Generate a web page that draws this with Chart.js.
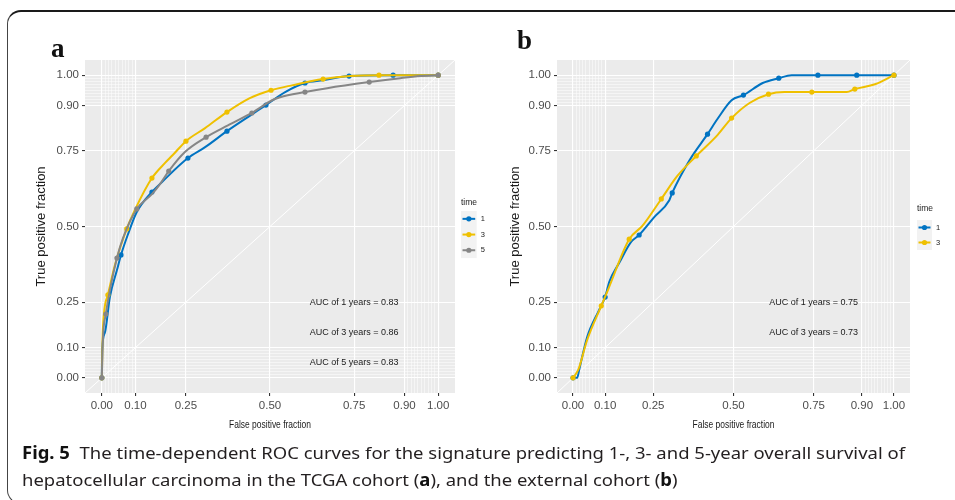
<!DOCTYPE html>
<html>
<head>
<meta charset="utf-8">
<script src="https://cdn.jsdelivr.net/npm/chart.js@4.4.1/dist/chart.umd.min.js"></script>
<style>
  body { margin: 0; background: #fff; width: 955px; height: 500px; overflow: hidden; position: relative; }
  .frame { position: absolute; left: 7px; top: 10px; width: 1000px; height: 494px;
           border-top: 2px solid #1a1a1a; border-left: 1.5px solid #444; border-bottom: 1.5px solid #444;
           border-radius: 14px; box-sizing: border-box; }
  canvas { position: absolute; top: 0; }
  #caption { position: absolute; left: 22px; top: 439px; font-family: "Noto Sans", sans-serif;
             font-size: 17px; line-height: 27px; color: #231f20; white-space: nowrap; transform-origin: 0 0; }
  #caption b { color: #111; }
</style>
</head>
<body>
<div class="frame"></div>
<canvas id="chartA" width="500" height="440" style="left:0;width:500px;height:440px"></canvas>
<canvas id="chartB" width="475" height="440" style="left:480px;width:475px;height:440px"></canvas>
<div id="caption"><span id="cap1"><b>Fig. 5</b>&nbsp; The time-dependent ROC curves for the signature predicting 1-, 3- and 5-year overall survival of</span><br><span>hepatocellular carcinoma in the TCGA cohort (<b>a</b>), and the external cohort (<b>b</b>)</span></div>
<script>
// axis breaks (plotROC style)
const majorBreaks = [0, 0.1, 0.25, 0.5, 0.75, 0.9, 1];
const minorBreaks = [0.01, 0.02, 0.03, 0.04, 0.05, 0.06, 0.07, 0.08, 0.09,
                     0.91, 0.92, 0.93, 0.94, 0.95, 0.96, 0.97, 0.98, 0.99];
const refLine = [{ x: -0.05, y: -0.05 }, { x: 1.05, y: 1.05 }];

// --- panel a: TCGA cohort ---
const fprA1 = [0, 0.001, 0.009, 0.024, 0.045, 0.057, 0.077, 0.104, 0.149, 0.179, 0.256, 0.307, 0.372, 0.443, 0.488, 0.545, 0.604, 0.658, 0.735, 0.866, 1];
const tprA1 = [0, 0.09, 0.149, 0.267, 0.356, 0.406, 0.472, 0.548, 0.614, 0.647, 0.726, 0.762, 0.815, 0.868, 0.901, 0.944, 0.974, 0.983, 0.997, 1, 1];
const markA1 = [0, 5, 8, 10, 12, 14, 16, 18, 19, 20];

const fprA3 = [0, 0.003, 0.018, 0.039, 0.074, 0.098, 0.149, 0.188, 0.211, 0.25, 0.307, 0.372, 0.44, 0.503, 0.568, 0.658, 0.738, 0.824, 1];
const tprA3 = [0, 0.158, 0.274, 0.373, 0.492, 0.554, 0.66, 0.71, 0.736, 0.782, 0.825, 0.878, 0.924, 0.95, 0.967, 0.987, 0.997, 1, 1];
const markA3 = [0, 2, 4, 6, 9, 11, 13, 15, 17, 18];

const fprA5 = [0, 0.003, 0.012, 0.024, 0.045, 0.063, 0.104, 0.149, 0.173, 0.199, 0.247, 0.31, 0.375, 0.446, 0.506, 0.53, 0.604, 0.67, 0.795, 0.887, 0.946, 1];
const tprA5 = [0, 0.125, 0.211, 0.29, 0.396, 0.462, 0.558, 0.607, 0.64, 0.683, 0.746, 0.795, 0.834, 0.875, 0.917, 0.927, 0.944, 0.957, 0.977, 0.99, 0.997, 1];
const markA5 = [0, 2, 4, 6, 9, 11, 13, 16, 18, 21];

const aucA = ["AUC of 1 years = 0.83", "AUC of 3 years = 0.86", "AUC of 5 years = 0.83"];
const aucAy = [0.25, 0.15, 0.05];
const timesA = ["1", "3", "5"];

// --- panel b: external cohort ---
const fprB1 = [0, 0.013, 0.019, 0.044, 0.081, 0.1, 0.113, 0.144, 0.181, 0.206, 0.253, 0.3, 0.309, 0.363, 0.419, 0.45, 0.494, 0.531, 0.591, 0.641, 0.681, 0.763, 0.884, 1];
const tprB1 = [0, 0, 0.026, 0.135, 0.224, 0.267, 0.317, 0.38, 0.449, 0.472, 0.531, 0.587, 0.611, 0.719, 0.805, 0.855, 0.917, 0.934, 0.974, 0.99, 1, 1, 1, 1];
const markB1 = [0, 5, 9, 12, 14, 17, 19, 21, 22, 23];

const fprB3 = [0, 0.016, 0.044, 0.088, 0.109, 0.175, 0.216, 0.275, 0.325, 0.384, 0.45, 0.494, 0.55, 0.609, 0.659, 0.744, 0.853, 0.878, 0.941, 1];
const tprB3 = [0, 0.026, 0.125, 0.238, 0.291, 0.458, 0.502, 0.591, 0.667, 0.733, 0.802, 0.858, 0.908, 0.937, 0.944, 0.944, 0.944, 0.954, 0.97, 1];
const markB3 = [0, 3, 5, 7, 9, 11, 13, 15, 17, 19];

const aucB = ["AUC of 1 years = 0.75", "AUC of 3 years = 0.73"];
const aucBy = [0.25, 0.15];
const timesB = ["1", "3"];

const COLORS = ['#0073C2', '#EFC000', '#868686'];
const FONT = '"Liberation Sans", Arial, sans-serif';

const isMajor = v => majorBreaks.includes(v);
const zip = (fpr, tpr) => fpr.map((x, i) => ({ x: x, y: tpr[i] }));

function rocSet(fpr, tpr, marks, color, order) {
    return {
        data: zip(fpr, tpr),
        borderColor: color,
        backgroundColor: color,
        borderWidth: 2,
        cubicInterpolationMode: 'monotone',
        pointRadius: ctx => marks.includes(ctx.dataIndex) ? 2.6 : 0,
        pointBorderWidth: 0,
        pointBackgroundColor: color,
        order: order
    };
}

function axis(widthFix, heightFix) {
    return {
        type: 'linear', min: -0.05, max: 1.05,
        afterBuildTicks: s => { s.ticks = majorBreaks.concat(minorBreaks).map(v => ({ value: v })); },
        afterFit: s => { if (widthFix) s.width = widthFix; if (heightFix) s.height = heightFix; },
        ticks: {
            autoSkip: false, maxRotation: 0, padding: 3,
            color: '#4D4D4D', font: { family: FONT, size: 11.5 },
            callback: v => isMajor(v) ? v.toFixed(2) : ''
        },
        grid: {
            color: '#FFFFFF',
            lineWidth: ctx => (ctx.tick && isMajor(ctx.tick.value)) ? 1.1 : 0.5,
            tickColor: ctx => (ctx.tick && isMajor(ctx.tick.value)) ? '#333333' : 'rgba(0,0,0,0)',
            tickLength: 3
        },
        border: { display: false }
    };
}

// ggplot-ish background, texts, legend
const ggPlugin = {
    id: 'gg',
    beforeDraw(chart, args, o) {
        const { ctx, chartArea: a } = chart;
        ctx.save();
        ctx.fillStyle = '#EBEBEB';
        ctx.fillRect(a.left, a.top, a.right - a.left, a.bottom - a.top);
        ctx.restore();
    },
    afterDatasetsDraw(chart, args, o) {
        const { ctx, scales } = chart;
        ctx.save();
        ctx.fillStyle = '#1a1a1a';
        ctx.font = '9px ' + FONT;
        ctx.textAlign = 'center';
        ctx.textBaseline = 'middle';
        o.auc.forEach((t, i) => ctx.fillText(t, scales.x.getPixelForValue(0.75), scales.y.getPixelForValue(o.aucY[i])));
        ctx.restore();
    },
    afterDraw(chart, args, o) {
        const { ctx, chartArea: a } = chart;
        ctx.save();
        // panel letter
        ctx.fillStyle = '#111';
        ctx.font = 'bold 27px "Liberation Serif", "DejaVu Serif", serif';
        ctx.textAlign = 'left';
        ctx.textBaseline = 'alphabetic';
        ctx.fillText(o.letter, o.letterX, o.letterY);
        // y title
        ctx.fillStyle = '#1a1a1a';
        ctx.font = '13px ' + FONT;
        ctx.textAlign = 'center';
        ctx.textBaseline = 'middle';
        ctx.save();
        ctx.translate(o.yTitleX, (a.top + a.bottom) / 2);
        ctx.rotate(-Math.PI / 2);
        ctx.fillText('True positive fraction', 0, 0);
        ctx.restore();
        // x title (narrow in the source)
        ctx.save();
        ctx.translate((a.left + a.right) / 2, 425);
        ctx.scale(0.77, 1);
        ctx.font = '11px ' + FONT;
        ctx.fillText('False positive fraction', 0, 0);
        ctx.restore();
        // legend
        const L = o.legend;
        ctx.textAlign = 'left';
        ctx.font = '8.5px ' + FONT;
        ctx.fillText('time', L.x, L.titleY);
        ctx.fillStyle = '#F2F2F2';
        ctx.fillRect(L.x, L.top, L.key, L.key * L.labels.length);
        L.labels.forEach((lab, i) => {
            const cy = L.top + L.key * (i + 0.5);
            ctx.strokeStyle = COLORS[i];
            ctx.lineWidth = 2;
            ctx.beginPath();
            ctx.moveTo(L.x + 1.5, cy);
            ctx.lineTo(L.x + L.key - 1.5, cy);
            ctx.stroke();
            ctx.fillStyle = COLORS[i];
            ctx.beginPath();
            ctx.arc(L.x + L.key / 2, cy, 2.6, 0, Math.PI * 2);
            ctx.fill();
            ctx.fillStyle = '#1a1a1a';
            ctx.font = '7.5px ' + FONT;
            ctx.fillText(lab, L.x + L.key + 4, cy);
        });
        ctx.restore();
    }
};

function makeChart(id, datasets, pad, yWidth, gg) {
    return new Chart(document.getElementById(id), {
        type: 'line',
        data: { datasets: [{ data: refLine, borderColor: '#FFFFFF', borderWidth: 1, pointRadius: 0, order: 10 }].concat(datasets) },
        options: {
            responsive: false,
            animation: false,
            events: [],
            layout: { padding: pad },
            scales: { x: axis(0, 25), y: axis(yWidth, 0) },
            plugins: { legend: { display: false }, tooltip: { enabled: false }, gg: gg }
        },
        plugins: [ggPlugin]
    });
}

makeChart('chartA', [
    rocSet(fprA1, tprA1, markA1, COLORS[0], 3),
    rocSet(fprA3, tprA3, markA3, COLORS[1], 2),
    rocSet(fprA5, tprA5, markA5, COLORS[2], 1)
], { left: 33, top: 60, right: 45, bottom: 22 }, 52, {
    auc: aucA, aucY: aucAy, letter: 'a', letterX: 51, letterY: 57, yTitleX: 41,
    legend: { x: 461, titleY: 203, top: 211, key: 15.7, labels: timesA }
});

makeChart('chartB', [
    rocSet(fprB1, tprB1, markB1, COLORS[0], 3),
    rocSet(fprB3, tprB3, markB3, COLORS[1], 2)
], { left: 27, top: 60, right: 45, bottom: 22 }, 50, {
    auc: aucB, aucY: aucBy, letter: 'b', letterX: 37, letterY: 49, yTitleX: 35,
    legend: { x: 437, titleY: 209, top: 220, key: 15, labels: timesB }
});

// fit caption to the width of the original line
const cap = document.getElementById('caption');
const w1 = document.getElementById('cap1').getBoundingClientRect().width;
cap.style.transform = 'scaleX(' + (883 / w1) + ')';
</script>
</body>
</html>
